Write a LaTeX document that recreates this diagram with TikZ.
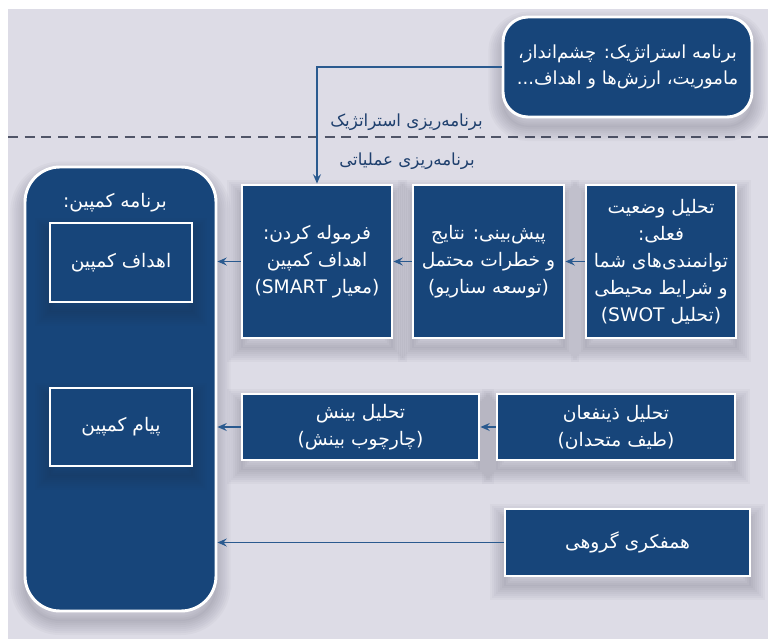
\documentclass[tikz,border=0pt]{standalone}
\usepackage{fontspec}
\newfontfamily\fa[Script=Arabic]{DejaVu Sans}
\setsansfont{DejaVu Sans}
\TeXXeTstate=1
\usetikzlibrary{arrows.meta,shadows}
\definecolor{bgc}{HTML}{DDDCE6}
\definecolor{boxc}{HTML}{17457A}
\definecolor{linec}{HTML}{2A5A8F}
\definecolor{labc}{HTML}{1E3F6D}
\definecolor{dashc}{HTML}{505568}
\definecolor{shc}{HTML}{2E3045}
\def\pxu{0.75pt}
\tikzset{
  % one layer of a soft shadow: a translucent stroke round the shape
  shlayer/.style={general shadow={draw=shc, draw opacity=0.032, line width=#1,
      shadow xshift=0pt, shadow yshift=-7pt}},
  softshadow/.style={shlayer=22pt, shlayer=19pt, shlayer=16pt, shlayer=13pt,
      shlayer=10pt, shlayer=7pt, shlayer=4pt, shlayer=1pt},
  card/.style={draw=white, line width=2.2pt, fill=boxc, text=white,
    align=center, font=\fa\fontsize{14}{20.3}\selectfont, inner sep=0pt, softshadow},
  inbox/.style={draw=white, line width=2.2pt, fill=boxc, text=white,
    align=center, font=\fa\fontsize{14}{20.3}\selectfont, inner sep=0pt},
  flow/.style={draw=linec, line width=0.9pt, -{Stealth[length=7pt,width=6pt,inset=2.5pt]}},
  lab/.style={text=labc, font=\fa\fontsize{12.5}{16}\selectfont, inner sep=0pt}
}
\newcommand{\rtl}[1]{\beginR #1\endR}
\newcommand{\ltr}[1]{\beginL #1\endL{}}
\begin{document}
\begin{tikzpicture}[x=0.75pt, y=-0.75pt]
  % canvas with a thin white margin on the left and top
  \fill[white] (0,0) rectangle (768,639);
  \fill[bgc] (8,9) rectangle (768,639);
  \useasboundingbox (0,0) rectangle (768,639);

  % boundary between the two planning levels
  \draw[dashc, line width=0.9pt, dash pattern=on 7.5pt off 5pt] (8,137) -- (768,137);
  \node[lab, anchor=east] (lstrat) at (483,122) {\rtl{برنامه‌ریزی استراتژیک}};
  \node[lab, anchor=east] (loper) at (475,161) {\rtl{برنامه‌ریزی عملیاتی}};

  % strategic plan
  \node[card, rounded corners=25*\pxu, minimum width=249*\pxu, minimum height=100*\pxu,
        font=\fa\fontsize{13.5}{19}\selectfont] (top) at (627.5,67)
    {\rtl{برنامه استراتژیک: چشم‌انداز،}\\\rtl{ماموریت، ارزش‌ها و اهداف...}};

  % campaign plan container
  \node[card, rounded corners=35*\pxu, minimum width=191*\pxu, minimum height=444*\pxu] (big) at (120.5,389) {};
  \node[inbox, draw=none, fill=none] (btitle) at (115,203) {\rtl{برنامه کمپین:}};
  \node[inbox, softshadow, minimum width=142*\pxu, minimum height=79*\pxu] (goals) at (121,262.5) {\rtl{اهداف کمپین}};
  \node[inbox, softshadow, minimum width=142*\pxu, minimum height=78*\pxu] (msg) at (121,427) {\rtl{پیام کمپین}};

  % first row
  \node[card, minimum width=150*\pxu, minimum height=153*\pxu] (form) at (317,261.5)
    {\rtl{فرموله کردن:}\\\rtl{اهداف کمپین}\\\rtl{(معیار \ltr{SMART})}};
  \node[card, minimum width=151*\pxu, minimum height=153*\pxu] (pred) at (488.5,261.5)
    {\rtl{پیش‌بینی: نتایج}\\\rtl{و خطرات محتمل}\\\rtl{(توسعه سناریو)}};
  \node[card, minimum width=150*\pxu, minimum height=153*\pxu] (swot) at (661,261.5)
    {\rtl{تحلیل وضعیت}\\\rtl{فعلی:}\\\rtl{توانمندی‌های شما}\\\rtl{و شرایط محیطی}\\\rtl{(تحلیل \ltr{SWOT})}};

  % second row
  \node[card, minimum width=237*\pxu, minimum height=66*\pxu] (ins) at (360.5,427)
    {\rtl{تحلیل بینش}\\\rtl{(چارچوب بینش)}};
  \node[card, minimum width=238*\pxu, minimum height=66*\pxu] (stk) at (616,427)
    {\rtl{تحلیل ذینفعان}\\\rtl{(طیف متحدان)}};

  % third row
  \node[card, minimum width=245*\pxu, minimum height=67*\pxu] (brain) at (627.5,542.5)
    {\rtl{همفکری گروهی}};

  % connectors
  \draw[flow] (top.west) -| (form.north);
  \draw[flow] (swot.west) -- (pred.east);
  \draw[flow] (pred.west) -- (form.east);
  \draw[flow] (form.west) -- (form.west -| big.east);
  \draw[flow] (stk.west) -- (ins.east);
  \draw[flow] (ins.west) -- (ins.west -| big.east);
  \draw[flow] (brain.west) -- (brain.west -| big.east);
\end{tikzpicture}
\end{document}
